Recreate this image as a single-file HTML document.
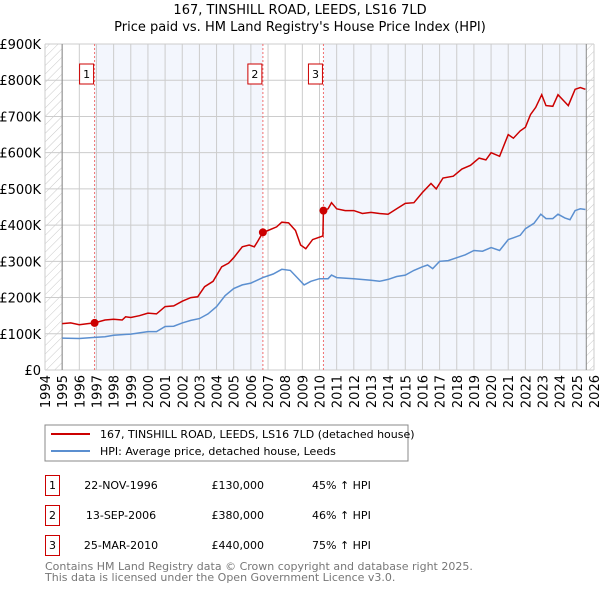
<!DOCTYPE html>
<html><head><meta charset="utf-8"><style>
body{margin:0;background:#fff;font-family:"DejaVu Sans","Liberation Sans",sans-serif;}
svg text{font-family:"DejaVu Sans","Liberation Sans",sans-serif;}
</style></head><body>
<svg id="chart" width="600" height="590" viewBox="0 0 600 590" xmlns="http://www.w3.org/2000/svg">
<defs>
<pattern id="hatch" patternUnits="userSpaceOnUse" width="6" height="6" patternTransform="rotate(45)">
<line x1="0" y1="0" x2="0" y2="6" stroke="#bbb" stroke-width="0.8"/>
</pattern>
</defs>
<text x="300" y="14" text-anchor="middle" font-size="13">167, TINSHILL ROAD, LEEDS, LS16 7LD</text>
<text x="300" y="31" text-anchor="middle" font-size="13">Price paid vs. HM Land Registry's House Price Index (HPI)</text>
<g id="plot"></g>
<g>
<rect x="45" y="425" width="363" height="36" fill="#fff" stroke="#888" stroke-width="1"/>
<line x1="51" y1="434" x2="90" y2="434" stroke="#cc0000" stroke-width="2"/>
<text x="100" y="438" font-size="11">167, TINSHILL ROAD, LEEDS, LS16 7LD (detached house)</text>
<line x1="51" y1="451" x2="90" y2="451" stroke="#5b8fd0" stroke-width="2"/>
<text x="100" y="455" font-size="11">HPI: Average price, detached house, Leeds</text>
</g>
<g font-size="11">
<rect x="45.5" y="475.5" width="14" height="20" fill="#fff" stroke="#cc0000"/><text x="52.5" y="489" text-anchor="middle">1</text>
<text x="121" y="489" text-anchor="middle">22-NOV-1996</text><text x="264" y="489" text-anchor="end">£130,000</text><text x="312" y="489">45% ↑ HPI</text>
<rect x="45.5" y="505.5" width="14" height="20" fill="#fff" stroke="#cc0000"/><text x="52.5" y="519" text-anchor="middle">2</text>
<text x="121" y="519" text-anchor="middle">13-SEP-2006</text><text x="264" y="519" text-anchor="end">£380,000</text><text x="312" y="519">46% ↑ HPI</text>
<rect x="45.5" y="535.5" width="14" height="20" fill="#fff" stroke="#cc0000"/><text x="52.5" y="549" text-anchor="middle">3</text>
<text x="121" y="549" text-anchor="middle">25-MAR-2010</text><text x="264" y="549" text-anchor="end">£440,000</text><text x="312" y="549">75% ↑ HPI</text>
</g>
<text x="45" y="570" font-size="11" fill="#777">Contains HM Land Registry data © Crown copyright and database right 2025.</text>
<text x="45" y="581" font-size="11" fill="#777">This data is licensed under the Open Government Licence v3.0.</text>
</svg>
<script>
const yTicks=[0,100,200,300,400,500,600,700,800,900];
const yTickLabels=["£0","£100K","£200K","£300K","£400K","£500K","£600K","£700K","£800K","£900K"];
const xYears=[1994,1995,1996,1997,1998,1999,2000,2001,2002,2003,2004,2005,2006,2007,2008,2009,2010,2011,2012,2013,2014,2015,2016,2017,2018,2019,2020,2021,2022,2023,2024,2025,2026];
const saleDates=[1996.89,2006.70,2010.23];
const salePrices=[130,380,440];
const saleLabels=["1","2","3"];
const propDates=[1995,1995.5,1996,1996.5,1996.89,1997.5,1998,1998.5,1998.7,1999,1999.5,2000,2000.5,2001,2001.5,2002,2002.5,2002.9,2003.3,2003.8,2004.3,2004.7,2005,2005.5,2005.9,2006.2,2006.4,2006.7,2007,2007.5,2007.8,2008.2,2008.6,2008.9,2009.2,2009.6,2010.2,2010.23,2010.5,2010.7,2011,2011.5,2012,2012.5,2013,2013.5,2014,2014.5,2015,2015.5,2016,2016.5,2016.8,2017.2,2017.8,2018.3,2018.8,2019.3,2019.7,2020,2020.5,2021,2021.3,2021.7,2022,2022.3,2022.6,2022.95,2023.2,2023.6,2023.9,2024.2,2024.5,2024.9,2025.2,2025.5];
const propValues=[128,130,125,128,130,138,140,138,147,145,150,157,155,175,177,190,200,202,230,245,285,295,310,340,345,340,355,380,385,395,408,406,385,345,335,360,370,440,445,462,445,440,440,432,435,432,430,445,460,462,490,515,500,530,535,555,565,585,580,600,590,650,640,660,670,705,725,760,730,728,760,745,730,775,780,775];
const hpiDates=[1995,1996,1996.9,1997.5,1998,1999,2000,2000.5,2001,2001.5,2002,2002.5,2003,2003.5,2004,2004.5,2005,2005.5,2006,2006.7,2007.3,2007.8,2008.3,2008.7,2009.1,2009.5,2010,2010.5,2010.7,2011,2012,2013,2013.5,2014,2014.5,2015,2015.5,2016,2016.3,2016.6,2017,2017.5,2018,2018.5,2019,2019.5,2020,2020.5,2021,2021.3,2021.7,2022,2022.5,2022.9,2023.2,2023.6,2023.9,2024.3,2024.6,2024.9,2025.2,2025.5];
const hpiValues=[88,87,90,92,96,99,106,106,120,121,130,137,142,155,175,205,225,235,240,255,265,278,275,255,235,245,252,252,262,255,252,248,245,250,258,262,275,285,290,280,300,302,310,318,330,328,338,330,360,365,372,390,405,430,418,418,430,420,415,440,445,443];

const L=45,R=594,T=44,B=370,X0=1994,X1=2026,YMAX=900,DATA_END=2025.55;
const xs=t=>L+(t-X0)*(R-L)/(X1-X0);
const ys=v=>B-v*(B-T)/YMAX;
const NS="http://www.w3.org/2000/svg";
const plot=document.getElementById('plot');
function mk(tag,attrs,parent){const e=document.createElementNS(NS,tag);for(const k in attrs)e.setAttribute(k,attrs[k]);(parent||plot).appendChild(e);return e;}

// shaded ownership periods
let s1=mk('rect',{x:xs(saleDates[0]),y:T,width:xs(saleDates[1])-xs(saleDates[0]),height:B-T,fill:'#f3f6fd'});


let s2=mk('rect',{x:xs(saleDates[2]),y:T,width:xs(DATA_END)-xs(saleDates[2]),height:B-T,fill:'#f3f6fd'});


// hatched areas
let h1=mk('rect',{x:L,y:T,width:xs(1995)-L,height:B-T,fill:'url(#hatch)'});


let h2=mk('rect',{x:xs(DATA_END),y:T,width:R-xs(DATA_END),height:B-T,fill:'url(#hatch)'});



// gridlines
yTicks.forEach((v,i)=>{
  const g=mk('line',{x1:L,x2:R,y1:ys(v),y2:ys(v),stroke:'#ccc','stroke-width':1});
  
  
  const t=mk('text',{x:L-4,y:ys(v)+5,'text-anchor':'end','font-size':13});
  t.textContent=yTickLabels[i];
  
  
});
xYears.forEach(yr=>{
  const g=mk('line',{x1:xs(yr),x2:xs(yr),y1:T,y2:B,stroke:'#ccc','stroke-width':1});
  
  
  const t=mk('text',{x:0,y:0,'text-anchor':'end','font-size':13,transform:`translate(${xs(yr)+5},${B+5}) rotate(-90)`});
  t.textContent=yr;
  
  
});
let e1=mk('line',{x1:xs(1995),x2:xs(1995),y1:T,y2:B,stroke:'#888'});


let e2=mk('line',{x1:xs(DATA_END),x2:xs(DATA_END),y1:T,y2:B,stroke:'#888'});



// sale markers lines
saleDates.forEach((d,i)=>{
  const l=mk('line',{x1:xs(d),x2:xs(d),y1:T,y2:B,stroke:'#f07070','stroke-dasharray':'2,2'});
  
  
  const r=mk('rect',{x:xs(d)-15,y:64,width:14,height:20,fill:'#fff',stroke:'#cc0000'});
  
  
  const t=mk('text',{x:xs(d)-8,y:78,'text-anchor':'middle','font-size':11});
  t.textContent=saleLabels[i];
  
  
});

function path(dates,vals){return dates.map((d,i)=>(i?'L':'M')+xs(d).toFixed(1)+','+ys(vals[i]).toFixed(1)).join('');}
let hp=mk('path',{d:path(hpiDates,hpiValues),fill:'none',stroke:'#5b8fd0','stroke-width':1.5});


let pp=mk('path',{d:path(propDates,propValues),fill:'none',stroke:'#cc0000','stroke-width':1.5});


saleDates.forEach((d,i)=>{
  const c=mk('circle',{cx:xs(d),cy:ys(salePrices[i]),r:4,fill:'#cc0000'});
  
  
});
</script>
</body></html>
